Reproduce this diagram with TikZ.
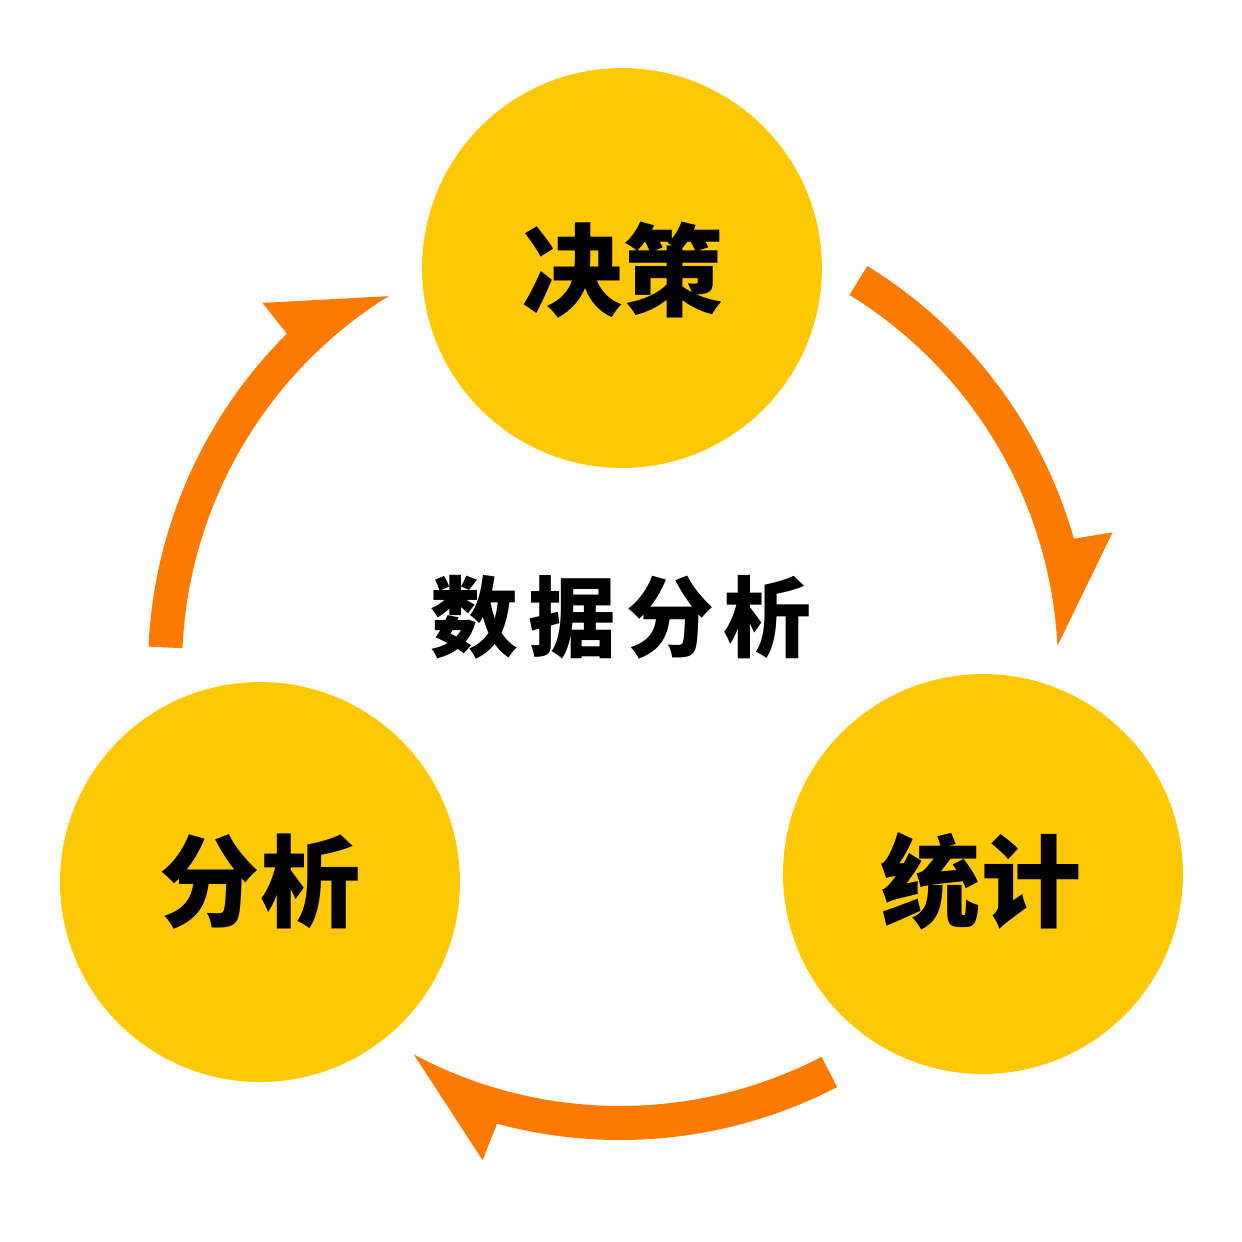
\documentclass[tikz,border=0pt]{standalone}
\usepackage{fontspec}
\newfontfamily\cjk{Noto Sans CJK SC}
\definecolor{ballyellow}{HTML}{FFC805}
\definecolor{arroworange}{HTML}{FF7B00}
\tikzset{
  ball/.style={circle, fill=ballyellow, draw=none, minimum size=8cm, inner sep=0pt},
  balltext/.style={font=\cjk\bfseries\fontsize{57pt}{60pt}\selectfont, text=black, inner sep=0pt},
  titletext/.style={font=\cjk\bfseries\fontsize{50pt}{54pt}\selectfont, text=black, inner sep=0pt},
  arrowfill/.style={fill=arroworange, draw=none},
  pics/cyclearrow/.style={code={
    \fill[arrowfill] ({#1}:472) arc[start angle={#1}, end angle={#1+42.5}, radius=472]
      -- ({#1+43}:511) -- ({#1+55.5}:438)
      arc[start angle={#1+55.5}, end angle={#1}, radius=438] -- cycle;
  }}
}
\begin{document}
\begin{tikzpicture}[x=0.02cm, y=-0.02cm]
  \useasboundingbox (0,0) rectangle (1242,1242);
  \node[ball] (jc) at (622,268) {};
  \node[ball] (fx) at (260,882) {};
  \node[ball] (tj) at (983,874) {};
  \node[balltext] (jclabel) at (623,270) {决策};
  \node[balltext] (fxlabel) at (260,882) {分析};
  \node[balltext] (tjlabel) at (981,881) {统计};
  \node[titletext] (title) at (621,617) {数\hskip5.7pt据\hskip5.7pt分\hskip5.7pt析};
  \coordinate (hub) at (620,668);
  \pic at (hub) {cyclearrow=182.6};
  \pic at (hub) {cyclearrow=301.6};
  \pic at (hub) {cyclearrow=62.6};
\end{tikzpicture}
\end{document}
